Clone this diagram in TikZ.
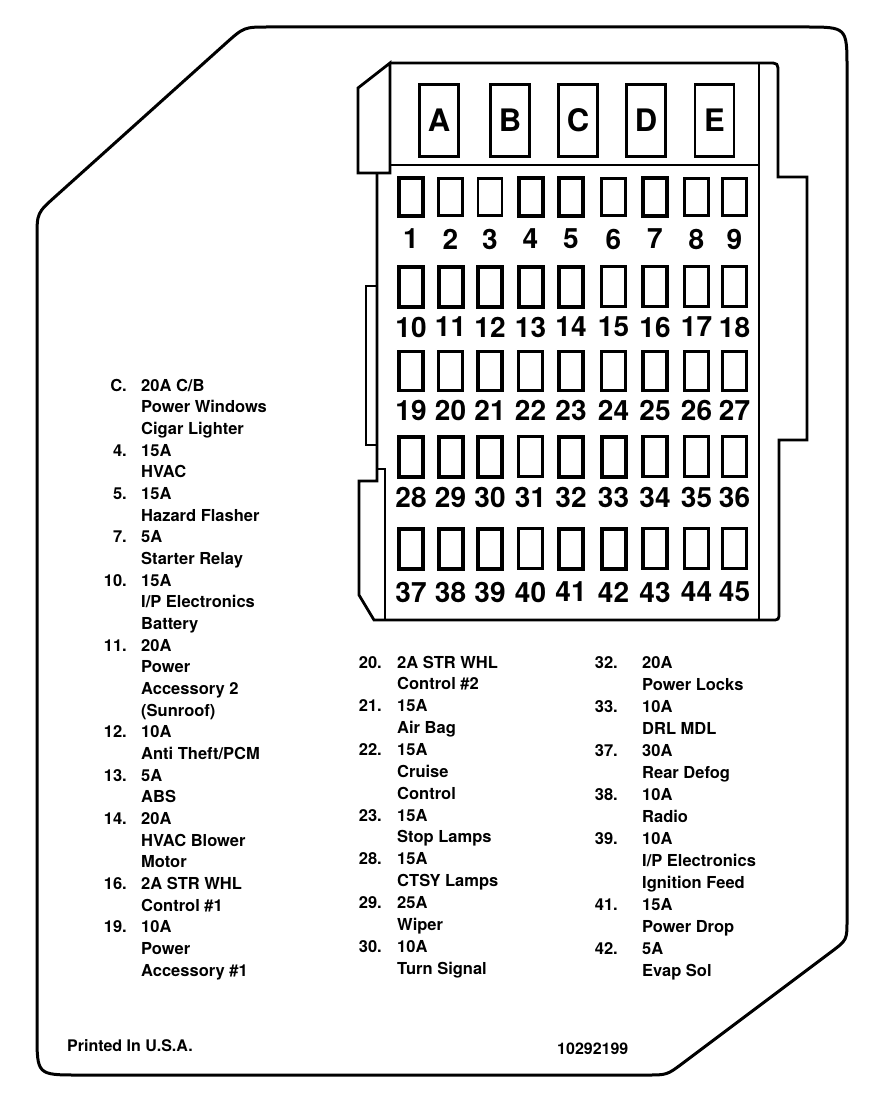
\documentclass[tikz,border=0pt]{standalone}
\usepackage{fontspec}
\setmainfont{TeX Gyre Heros}
\begin{document}
\begin{tikzpicture}[x=1pt,y=-1pt,
  outline/.style={line width=3pt,line join=round},
  boxline/.style={line width=2.8pt,line join=miter},
  thinline/.style={line width=2.3pt},
  fuse/.style={draw,rectangle,inner sep=0pt,outer sep=0pt,minimum width=24pt},
  relay/.style={draw,rectangle,inner sep=0pt,outer sep=0pt,minimum width=39pt,minimum height=72pt,
    font=\bfseries\fontsize{31}{33}\selectfont},
  fnum/.style={inner sep=0pt,font=\bfseries\fontsize{28}{30}\selectfont},
  lbl/.style={inner sep=0pt,font=\bfseries\fontsize{16.5}{18}\selectfont},
  foot/.style={inner sep=0pt,font=\bfseries\fontsize{16}{18}\selectfont}]
\useasboundingbox (0,0) rectangle (880,1102);

% outer card
\draw[outline] (269,27) -- (805,27) .. controls (847,27) .. (847,69) -- (847,920)
  .. controls (847,940) .. (831,952) -- (683,1063) .. controls (667,1075) .. (647,1075)
  -- (79,1075) .. controls (37,1075) .. (37,1033) -- (37,238)
  .. controls (37,213) .. (55.6,196.3) -- (225.4,43.7) .. controls (244,27) .. (269,27) -- cycle;

% fuse block outline
\draw[boxline] (390,63) -- (768,63) .. controls (778,63) .. (778,73) -- (778,177) -- (807,177)
  -- (807,440) -- (779,440) -- (779,612) .. controls (779,620) .. (771,620) -- (374,620)
  -- (359,595) -- (359,481) -- (377,481) -- (377,173);
\draw[boxline] (390,63) -- (390,173) -- (358,173) -- (358,88) -- cycle;
\draw[thinline] (390,165) -- (759,165);
\draw[thinline] (759,63) -- (759,620);
\draw[thinline] (377,286) -- (366,286) -- (366,445) -- (377,445);
\draw[thinline] (377,469) -- (385,469) -- (385,620);

% relays
\node[relay,line width=2.6pt] (rA) at (439,120.5) {A};
\node[relay,line width=2.6pt] (rB) at (510,120.5) {B};
\node[relay,line width=3.6pt] (rC) at (578,120.5) {C};
\node[relay,line width=2.4pt] (rD) at (646,120.5) {D};
\node[relay,line width=2.4pt] (rE) at (714.5,120.5) {E};

% fuses
\def\colx{{411,450.5,490,530.5,571,613.5,655,696.5,734.5}}
\def\fw{{4,2.5,2.5,4,4,2.5,4,2.5,2.5,
         4,4,4,4,4,2.5,3.6,3.2,3.2,
         3.4,3.4,3.4,3.4,3.4,3.2,3.2,3.2,3.2,
         4,4,4,2.5,4,4,3.2,2.5,2.5,
         4,4,4,2.5,4,4,3.2,3.2,2.5}}
\foreach \r/\top/\bot/\ny in {0/177/217/239, 1/265/308/327, 2/350/392/410, 3/435/478/497, 4/527/570/592}{
  \foreach \c in {0,...,8}{
    \pgfmathtruncatemacro\n{\r*9+\c+1}
    \pgfmathsetmacro\cx{\colx[\c]}
    \pgfmathsetmacro\lw{\fw[\n-1]}
    \pgfmathsetmacro\cy{(\top+\bot)/2}
    \pgfmathsetmacro\hh{\bot-\top-3}
    \node[fuse,line width=\lw pt,minimum height=\hh pt] (f\n) at (\cx,\cy) {};
    \node[fnum] (n\n) at (\cx,\ny) {\n};
  }
}

% legend
\newcommand\fent[6]{%
  \node[lbl,anchor=base east] (#1n) at (#2,#4) {#5};
  \node[lbl,anchor=base west] (#1t) at (#3,#4) {#6};}
\newcommand\cent[4]{\node[lbl,anchor=base west] (#1t) at (#2,#3) {#4};}

% left column
\fent{a0}{127}{141}{391}{C.}{20A C/B}
\cent{a1}{141}{412.7}{Power Windows}
\cent{a2}{141}{434.3}{Cigar Lighter}
\fent{a3}{127}{141}{456}{4.}{15A}
\cent{a4}{141}{477.7}{HVAC}
\fent{a5}{127}{141}{499.4}{5.}{15A}
\cent{a6}{141}{521}{Hazard Flasher}
\fent{a7}{127}{141}{542.7}{7.}{5A}
\cent{a8}{141}{564.4}{Starter Relay}
\fent{a9}{127}{141}{586}{10.}{15A}
\cent{a10}{141}{607.7}{I/P Electronics}
\cent{a11}{141}{629.4}{Battery}
\fent{a12}{127}{141}{651}{11.}{20A}
\cent{a13}{141}{672.7}{Power}
\cent{a14}{141}{694.4}{Accessory 2}
\cent{a15}{141}{716}{(Sunroof)}
\fent{a16}{127}{141}{737.7}{12.}{10A}
\cent{a17}{141}{759.4}{Anti Theft/PCM}
\fent{a18}{127}{141}{781}{13.}{5A}
\cent{a19}{141}{802.7}{ABS}
\fent{a20}{127}{141}{824.4}{14.}{20A}
\cent{a21}{141}{846}{HVAC Blower}
\cent{a22}{141}{867.7}{Motor}
\fent{a23}{127}{141}{889.4}{16.}{2A STR WHL}
\cent{a24}{141}{911}{Control \#1}
\fent{a25}{127}{141}{932.8}{19.}{10A}
\cent{a26}{141}{954.4}{Power}
\cent{a27}{141}{976}{Accessory \#1}

% middle column
\fent{b0}{382}{397}{668}{20.}{2A STR WHL}
\cent{b1}{397}{689.9}{Control \#2}
\fent{b2}{382}{397}{711.7}{21.}{15A}
\cent{b3}{397}{733.6}{Air Bag}
\fent{b4}{382}{397}{755.4}{22.}{15A}
\cent{b5}{397}{777.3}{Cruise}
\cent{b6}{397}{799.2}{Control}
\fent{b7}{382}{397}{821}{23.}{15A}
\cent{b8}{397}{842.9}{Stop Lamps}
\fent{b9}{382}{397}{864.7}{28.}{15A}
\cent{b10}{397}{886.6}{CTSY Lamps}
\fent{b11}{382}{397}{908.5}{29.}{25A}
\cent{b12}{397}{930.3}{Wiper}
\fent{b13}{382}{397}{952.2}{30.}{10A}
\cent{b14}{397}{974}{Turn Signal}

% right column
\fent{c0}{618}{642}{668}{32.}{20A}
\cent{c1}{642}{690}{Power Locks}
\fent{c2}{618}{642}{712}{33.}{10A}
\cent{c3}{642}{734}{DRL MDL}
\fent{c4}{618}{642}{756}{37.}{30A}
\cent{c5}{642}{778}{Rear Defog}
\fent{c6}{618}{642}{800}{38.}{10A}
\cent{c7}{642}{822}{Radio}
\fent{c8}{618}{642}{844}{39.}{10A}
\cent{c9}{642}{866}{I/P Electronics}
\cent{c10}{642}{888}{Ignition Feed}
\fent{c11}{618}{642}{910}{41.}{15A}
\cent{c12}{642}{932}{Power Drop}
\fent{c13}{618}{642}{954}{42.}{5A}
\cent{c14}{642}{976}{Evap Sol}

% footer
\node[foot,anchor=base west] (print) at (67,1051) {Printed In U.S.A.};
\node[foot,anchor=base west] (partno) at (557,1054) {10292199};
\end{tikzpicture}
\end{document}
